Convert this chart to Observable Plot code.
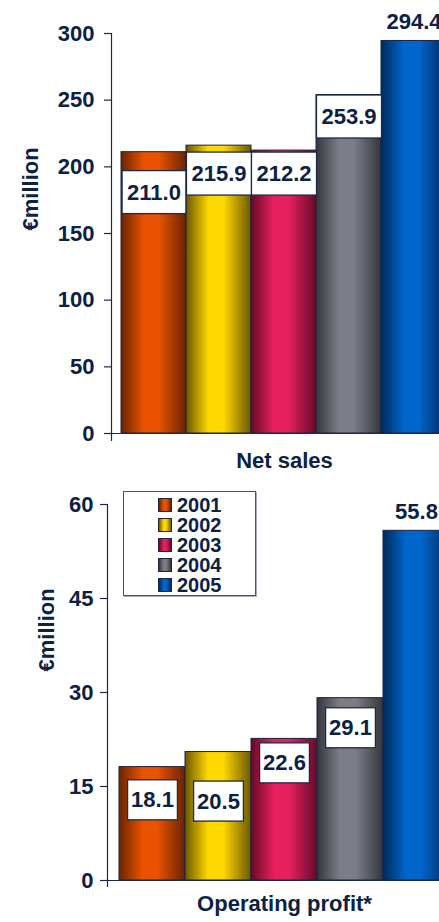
<!DOCTYPE html>
<html>
<head>
<meta charset="utf-8">
<script src="https://cdn.jsdelivr.net/npm/d3@7"></script>
<script src="https://cdn.jsdelivr.net/npm/@observablehq/plot@0.6"></script>
<style>
  html, body { margin: 0; padding: 0; background: #fff; }
  body { width: 439px; height: 922px; overflow: hidden; position: relative;
         font-family: "Liberation Sans", Arial, sans-serif; }
  .chart { position: absolute; left: 0; }
  #legend { position: absolute; left: 123px; top: 491px; width: 131px; height: 103px;
            border: 1.5px solid #46546f; background: #fff; box-shadow: 1px 1px 0 #a4acbd; }
  .lrow { position: absolute; left: 0; height: 20px; line-height: 20px; width: 130px; }
  .lsw { position: absolute; left: 34px; top: 3px; width: 12px; height: 12px; border: 1.5px solid #1d2740; }
  .ltx { position: absolute; left: 53px; top: 0; font-size: 20px; font-weight: bold; color: #0c2144; }
</style>
</head>
<body>
<svg width="0" height="0" style="position:absolute"><defs id="grads"></defs></svg>
<div id="top" class="chart" style="top:0"></div>
<div id="bottom" class="chart" style="top:480px"></div>
<div id="legend"></div>
<script>
// ---- data ----
const years = ["2001", "2002", "2003", "2004", "2005"];
const netSales = [211.0, 215.9, 212.2, 253.9, 294.4];
const operatingProfit = [18.1, 20.5, 22.6, 29.1, 55.8];
// where each value label sits (in € million); null = label above the bar
const salesLabelAt = [180.7, 194.6, 194.6, 237.4, null];
const profitLabelAt = [12.8, 12.6, 18.7, 24.3, null];
const salesTicks = [0, 50, 100, 150, 200, 250, 300];
const profitTicks = [0, 15, 30, 45, 60];

// ---- styles ----
const navy = "#0c2144";
const edgeColors = ["#6a2300", "#6b5800", "#660a28", "#35363d", "#002a5e"];
const lightColors = ["#e85200", "#ffd800", "#e6205f", "#7c7d87", "#0066cc"];
const font = "'Liberation Sans', Arial, sans-serif";
const fmt = d3.format(".1f");

// gradients (cylinder shading)
const defs = d3.select("#grads");
years.forEach((y, i) => {
  const g = defs.append("linearGradient").attr("id", "grad" + y)
    .attr("x1", 0).attr("x2", 1).attr("y1", 0).attr("y2", 0);
  [[0, edgeColors[i]], [0.35, lightColors[i]], [0.58, lightColors[i]], [1, edgeColors[i]]]
    .forEach(([o, c]) => g.append("stop").attr("offset", o).attr("stop-color", c));
});

function chart(o) {
  const data = years.map((year, i) => ({year, value: o.values[i], at: o.labelAt[i]}));
  const boxed = data.filter(d => d.at != null);
  const above = data.filter(d => d.at == null);
  const W = 460;
  return Plot.plot({
    width: W, height: o.height,
    marginLeft: o.marginLeft, marginRight: W - o.xRange[1],
    marginTop: o.yRange[1], marginBottom: o.height - o.axisBottom,
    style: {fontFamily: font, color: navy, background: "transparent", overflow: "visible", maxWidth: "none"},
    x: {type: "band", domain: years, range: o.xRange, padding: 0, axis: null},
    y: {domain: o.domain, range: o.yRange, axis: null},
    color: {domain: years, range: years.map(y => `url(#grad${y})`)},
    marks: [
      Plot.barY(data, {x: "year", y: "value", fill: "year", stroke: "#1b2540", strokeWidth: 1}),
      Plot.ruleY([0], {stroke: "#1b2a4a", strokeWidth: 1.2}),
      Plot.frame({anchor: "left", stroke: "#1b2a4a", strokeWidth: 1.2}),
      Plot.axisY({ticks: o.ticks, tickSize: 7, tickPadding: o.tickPad, fontSize: 22, fontWeight: "bold",
                  label: null, stroke: "#1b2a4a", strokeWidth: 1.2, fill: navy}),
      Plot.text(boxed, {x: "year", y: "at", text: d => fmt(d.value),
                        fontSize: 22, fontWeight: "bold", fill: navy}),
      Plot.text(above, {x: "year", y: "value", text: d => fmt(d.value), dy: -19,
                        fontSize: 22, fontWeight: "bold", fill: navy}),
      Plot.text([o.title], {frameAnchor: "bottom", dx: 5.5, dy: o.titleDy,
                            fontSize: 22, fontWeight: "bold", fill: navy}),
      Plot.text(["€million"], {frameAnchor: "left", rotate: -90, dx: o.yLabelDx, dy: o.yLabelDy,
                               fontSize: 22, fontWeight: "bold", fill: navy})
    ]
  });
}

function addBoxes(svg, values, labelAt, padX, padY) {
  const wanted = new Set(values.filter((v, i) => labelAt[i] != null).map(fmt));
  svg.querySelectorAll("text").forEach(t => {
    if (!wanted.has(t.textContent.trim())) return;
    const b = t.getBBox();
    const r = document.createElementNS("http://www.w3.org/2000/svg", "rect");
    r.setAttribute("x", b.x - padX);
    r.setAttribute("y", b.y - padY);
    r.setAttribute("width", b.width + 2 * padX);
    r.setAttribute("height", b.height + 2 * padY);
    r.setAttribute("fill", "#fff");
    r.setAttribute("stroke", "#1b2a4a");
    r.setAttribute("stroke-width", 1.3);
    if (t.getAttribute("transform")) r.setAttribute("transform", t.getAttribute("transform"));
    t.parentNode.insertBefore(r, t);
  });
}

const top1 = chart({
  values: netSales, labelAt: salesLabelAt, ticks: salesTicks, domain: [0, 300],
  height: 480, yRange: [433, 33], axisBottom: 440, xRange: [121, 446], marginLeft: 111,
  tickPad: 10, title: "Net sales", titleDy: 27, yLabelDx: -81, yLabelDy: -6.5
});
document.getElementById("top").appendChild(top1);
addBoxes(top1, netSales, salesLabelAt, 5, 9);

const bot = chart({
  values: operatingProfit, labelAt: profitLabelAt, ticks: profitTicks, domain: [0, 60],
  height: 442, yRange: [400, 24], axisBottom: 406, xRange: [117, 450], marginLeft: 107,
  tickPad: 7, title: "Operating profit*", titleDy: 24, yLabelDx: -61, yLabelDy: -24
});
document.getElementById("bottom").appendChild(bot);
addBoxes(bot, operatingProfit, profitLabelAt, 3.5, 7.5);

// legend
const legend = d3.select("#legend");
years.forEach((y, i) => {
  const row = legend.append("div").attr("class", "lrow").style("top", (3 + 20 * i) + "px");
  row.append("span").attr("class", "lsw")
    .style("background", `linear-gradient(to right, ${edgeColors[i]}, ${lightColors[i]} 40%, ${lightColors[i]} 60%, ${edgeColors[i]})`);
  row.append("span").attr("class", "ltx").text(y);
});
</script>
</body>
</html>
